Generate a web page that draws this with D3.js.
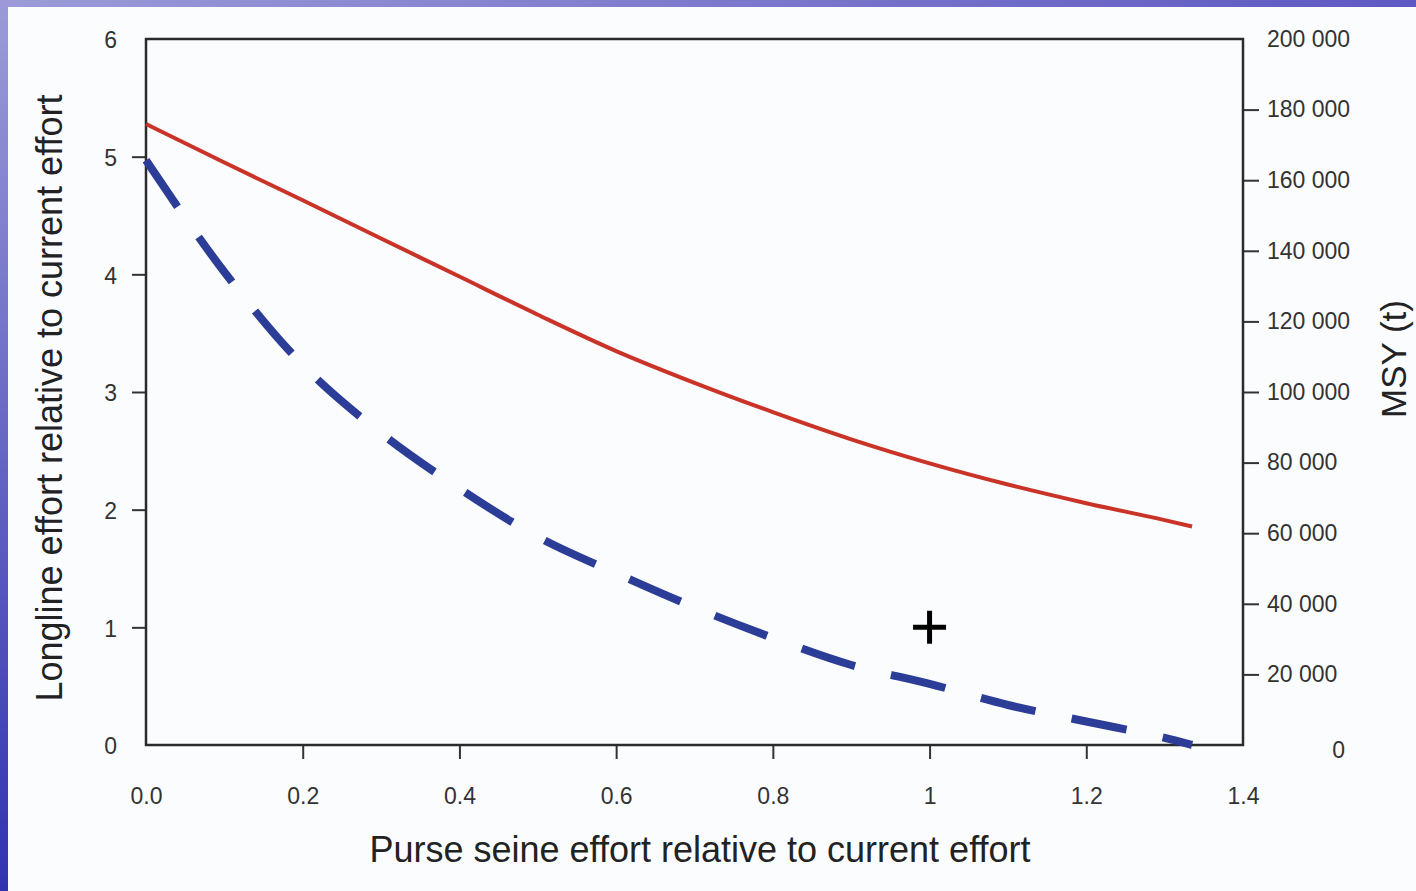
<script src="https://d3js.org/d3.v7.min.js"></script>

<style>
  body { margin: 0; }
  text { font-family: "Liberation Sans", Arial, sans-serif; }
</style>

<body>
  <div id="chart"></div>
</body>

<script>
// data
var xTicks = [0, 0.2, 0.4, 0.6, 0.8, 1, 1.2, 1.4]
var xTickLabels = ["0.0", "0.2", "0.4", "0.6", "0.8", "1", "1.2", "1.4"]
var leftTicks = [0, 1, 2, 3, 4, 5, 6]
var rightTicks = [0, 20000, 40000, 60000, 80000, 100000, 120000, 140000, 160000, 180000, 200000]

// purse seine effort (x) shared by both curves
var psEffort = [0, 0.1, 0.2, 0.3, 0.4, 0.5, 0.6, 0.7, 0.8, 0.9, 1.0, 1.1, 1.2, 1.3, 1.335]
// MSY (t), right axis - red line
var msy = [175900, 165000, 154300, 143500, 132700, 121900, 111600, 102600, 94300, 86600, 79800, 73800, 68500, 63700, 61900]
// longline effort giving MSY, left axis - blue dashed line
var llEffort = [4.97, 4.02, 3.23, 2.65, 2.18, 1.77, 1.46, 1.17, 0.91, 0.68, 0.52, 0.34, 0.2, 0.06, 0.0]

// current effort marker
var current = {ps: 1, ll: 1}

var width = 1416, height = 891
var margin = {top: 39, right: 173, bottom: 146, left: 146}

var svg = d3.select("#chart")
  .append("svg")
  .attr("width", width)
  .attr("height", height)

// slide background - blue bands on top and left
var defs = svg.append("defs")
var gTop = defs.append("linearGradient").attr("id", "gtop")
  .attr("x1", 0).attr("x2", 1).attr("y1", 0).attr("y2", 0)
gTop.append("stop").attr("offset", 0).attr("stop-color", "#9c9bd8")
gTop.append("stop").attr("offset", 1).attr("stop-color", "#5e58c2")
var gLeft = defs.append("linearGradient").attr("id", "gleft")
  .attr("x1", 0).attr("x2", 0).attr("y1", 0).attr("y2", 1)
gLeft.append("stop").attr("offset", 0).attr("stop-color", "#9c9bd8")
gLeft.append("stop").attr("offset", 1).attr("stop-color", "#3132b0")

svg.append("rect").attr("width", width).attr("height", height).attr("fill", "#fbfcfe")
svg.append("rect").attr("width", width).attr("height", 7).attr("fill", "url(#gtop)")
svg.append("rect").attr("width", 8).attr("height", height).attr("fill", "url(#gleft)")

// scales
var x = d3.scaleLinear()
  .domain([0, 1.4])
  .range([margin.left, width - margin.right])

var yL = d3.scaleLinear()
  .domain([0, 6])
  .range([height - margin.bottom, margin.top])

var yR = d3.scaleLinear()
  .domain([0, 200000])
  .range([height - margin.bottom, margin.top])

var x0 = x.range()[0], x1 = x.range()[1]
var yBot = yL.range()[0], yTop = yL.range()[1]

// x axis
var xAxis = svg.append("g")
  .attr("transform", "translate(0," + yBot + ")")
  .call(d3.axisBottom(x)
    .tickValues(xTicks)
    .tickFormat(function(d, i) { return xTickLabels[i] })
    .tickSize(14)
    .tickPadding(36)
    .tickSizeOuter(0))
xAxis.select(".domain").remove()

// left axis
var leftAxis = svg.append("g")
  .attr("transform", "translate(" + x0 + ",0)")
  .call(d3.axisLeft(yL)
    .tickValues(leftTicks)
    .tickFormat(d3.format("d"))
    .tickSize(14)
    .tickPadding(15)
    .tickSizeOuter(0))
leftAxis.select(".domain").remove()

// right axis
var fmt = d3.format(",")
var rightAxis = svg.append("g")
  .attr("transform", "translate(" + x1 + ",0)")
  .call(d3.axisRight(yR)
    .tickValues(rightTicks)
    .tickFormat(function(d) { return fmt(d).replace(/,/g, " ") })
    .tickSize(16)
    .tickPadding(8)
    .tickSizeOuter(0))
rightAxis.select(".domain").remove()

// no tick marks at the box corners
svg.selectAll(".tick line")
  .filter(function(d) { return d === 0 || d === 6 || d === 200000 || d === 1.4 })
  .remove()

svg.selectAll(".tick line")
  .attr("stroke", "#333")
  .attr("stroke-width", 2)

svg.selectAll(".tick text")
  .attr("fill", "#333")
  .style("font-size", "23px")

xAxis.selectAll(".tick text").attr("dy", "0.32em").attr("y", 52)
leftAxis.selectAll(".tick text").attr("dy", "0.38em")
rightAxis.selectAll(".tick text").attr("dy", "0.32em")
rightAxis.selectAll(".tick text")
  .filter(function(d) { return d === 0 })
  .attr("text-anchor", "end")
  .attr("x", 102)
  .attr("dy", "0.55em")

// plot box
svg.append("rect")
  .attr("x", x0)
  .attr("y", yTop)
  .attr("width", x1 - x0)
  .attr("height", yBot - yTop)
  .attr("fill", "none")
  .attr("stroke", "#2a2a2a")
  .attr("stroke-width", 2.5)

// red MSY line
var msyLine = d3.line()
  .x(function(d, i) { return x(psEffort[i]) })
  .y(function(d) { return yR(d) })
  .curve(d3.curveMonotoneX)

svg.append("path")
  .datum(msy)
  .attr("d", msyLine)
  .attr("fill", "none")
  .attr("stroke", "#c93328")
  .attr("stroke-width", 4)

// blue dashed longline effort line
var llLine = d3.line()
  .x(function(d, i) { return x(psEffort[i]) })
  .y(function(d) { return yL(d) })
  .curve(d3.curveMonotoneX)

svg.append("path")
  .datum(llEffort)
  .attr("d", llLine)
  .attr("fill", "none")
  .attr("stroke", "#2b3d97")
  .attr("stroke-width", 8)
  .attr("stroke-dasharray", "56,37")

// current effort marker (+)
svg.append("path")
  .attr("transform", "translate(" + x(current.ps) + "," + yL(current.ll) + ")")
  .attr("d", "M-16.5,0H16.5M0,-16.5V16.5")
  .attr("stroke", "#000")
  .attr("stroke-width", 5)

// axis titles
svg.append("text")
  .attr("x", 700)
  .attr("y", 862)
  .attr("text-anchor", "middle")
  .attr("fill", "#222")
  .style("font-size", "36px")
  .text("Purse seine effort relative to current effort")

svg.append("text")
  .attr("transform", "translate(62,398) rotate(-90)")
  .attr("text-anchor", "middle")
  .attr("fill", "#222")
  .style("font-size", "36px")
  .text("Longline effort relative to current effort")

svg.append("text")
  .attr("transform", "translate(1406,359) rotate(-90)")
  .attr("text-anchor", "middle")
  .attr("fill", "#222")
  .style("font-size", "35px")
  .text("MSY (t)")
</script>
